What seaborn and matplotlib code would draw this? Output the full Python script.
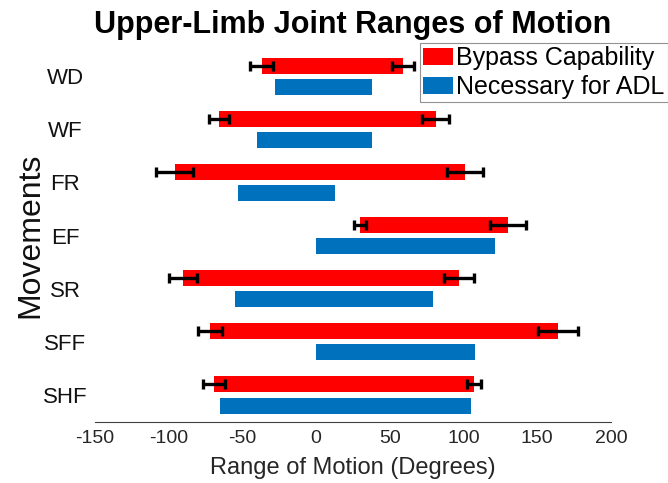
import pandas as pd
import matplotlib
matplotlib.use('Agg')
import matplotlib.pyplot as plt
import seaborn as sns

# Data (degrees)
movements = ['WD', 'WF', 'FR', 'EF', 'SR', 'SFF', 'SHF']
bypass_min = [-37, -66, -96, 30, -90, -72, -69]
bypass_max = [59, 81, 101, 130, 97, 164, 107]
bypass_min_err = [8, 7, 12.5, 4, 9.5, 8, 7.5]
bypass_max_err = [7.5, 9, 12.5, 12, 10, 13.5, 5]
adl_min = [-28, -40, -53, 0, -55, 0, -65]
adl_max = [38, 38, 13, 121, 79, 108, 105]
series = ['Bypass Capability', 'Necessary for ADL']
colors = ['#FF0000', '#0072BD']
xticks = [-150, -100, -50, 0, 50, 100, 150, 200]

sns.set_theme(style='white')
plt.rcParams['font.family'] = ['Liberation Sans', 'DejaVu Sans']

df = pd.DataFrame({
    'movement': movements * 2,
    'series': [series[0]] * len(movements) + [series[1]] * len(movements),
    'low': bypass_min + adl_min,
    'high': bypass_max + adl_max,
})
df['span'] = df['high'] - df['low']

fig = plt.figure(figsize=(6.68, 4.83), dpi=100)
ax = fig.add_axes([0.1422, 0.1273, 0.7725, 0.770])

sns.barplot(data=df, y='movement', x='span', hue='series', order=movements,
            hue_order=series, palette=colors, saturation=1, dodge=True, gap=0.25,
            errorbar=None, linewidth=0, ax=ax)

# shift each bar so it starts at its lower bound (patches come per hue group)
bars = [p for p in ax.patches if p.get_height() > 0 and p.get_width() != 0]
for p, low in zip(bars, df['low']):
    p.set_x(low)

# error bars at both ends of the bypass bars
red_bars = bars[:len(movements)]
ycent = [p.get_y() + p.get_height() / 2 for p in red_bars]
ekw = dict(fmt='none', ecolor='black', elinewidth=2.4, capsize=3.8, capthick=2.4, zorder=5)
ax.errorbar(bypass_min, ycent, xerr=bypass_min_err, **ekw)
ax.errorbar(bypass_max, ycent, xerr=bypass_max_err, **ekw)

ax.set_xlim(-150, 200)
ax.set_ylim(6.5, -0.5)
ax.set_xticks(xticks)
ax.set_xticklabels([str(t) for t in xticks], fontsize=14, color='#262626')
ax.tick_params(axis='x', direction='in', length=4, width=0.8, color='#404040', pad=6)
ax.tick_params(axis='y', length=0, pad=21.6, labelsize=16, labelcolor='#111111')
for lab in ax.get_yticklabels():
    lab.set_ha('center')

for s in ['top', 'right', 'left']:
    ax.spines[s].set_visible(False)
ax.spines['bottom'].set_color('#404040')
ax.spines['bottom'].set_linewidth(0.8)

ax.set_xlabel('Range of Motion (Degrees)', fontsize=17, color='#262626', labelpad=7)
ax.set_ylabel('Movements', fontsize=23, color='#111111')
ax.yaxis.set_label_coords(-0.097, 0.5)
ax.set_title('Upper-Limb Joint Ranges of Motion', fontsize=22, fontweight='bold',
             color='black', pad=12)

handles, labels = ax.get_legend_handles_labels()
leg = ax.legend(handles, labels, loc='upper right', bbox_to_anchor=(667.7 / 668, 1 - 43.3 / 483),
                bbox_transform=fig.transFigure, fontsize=18, frameon=True, fancybox=False,
                borderaxespad=0, borderpad=0.12, labelspacing=0.2, handlelength=1.2,
                handleheight=0.65, handletextpad=0.12, title=None)
leg.get_frame().set_edgecolor('#777777')
leg.get_frame().set_linewidth(0.8)
for t in leg.get_texts():
    t.set_color('black')

fig.savefig('out.png', dpi=100)
